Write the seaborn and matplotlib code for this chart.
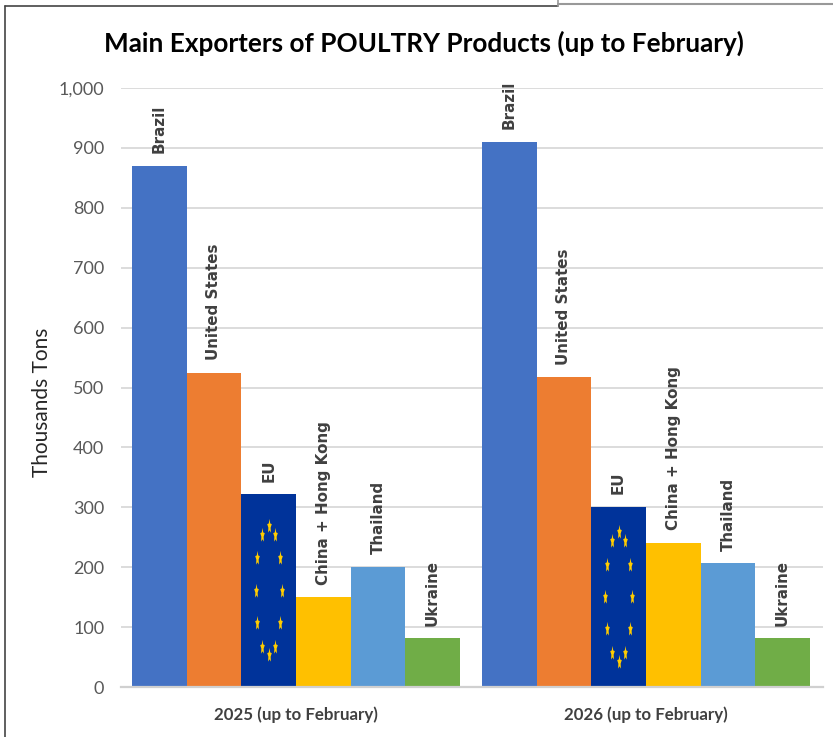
import matplotlib
matplotlib.use('Agg')
import matplotlib.pyplot as plt
from matplotlib.lines import Line2D
from matplotlib.path import Path
from matplotlib.markers import MarkerStyle
from matplotlib.transforms import Affine2D
import numpy as np
import pandas as pd
import seaborn as sns

periods = ['2025 (up to February)', '2026 (up to February)']
exporters = ['Brazil', 'United States', 'EU', 'China + Hong Kong', 'Thailand', 'Ukraine']
vals_2025 = [870, 525, 322, 150, 201, 81]
vals_2026 = [910, 517, 301, 241, 207, 81]
bar_colors = ['#4472C4', '#ED7D31', '#00339A', '#FFC000', '#5B9BD5', '#70AD47']
y_ticks = [0, 100, 200, 300, 400, 500, 600, 700, 800, 900, 1000]

df = pd.DataFrame({
    'period': [periods[0]] * 6 + [periods[1]] * 6,
    'exporter': exporters * 2,
    'tons': vals_2025 + vals_2026,
})

sns.set_theme(style='white')
plt.rcParams['font.family'] = ['Lato', 'DejaVu Sans']

fig = plt.figure(figsize=(8.33, 7.37), dpi=100)
W, H = 833, 737
ax = fig.add_axes([121 / W, 1 - 687 / H, 702 / W, 599 / H])

sns.barplot(data=df, x='period', y='tons', hue='exporter', hue_order=exporters,
            palette=bar_colors, width=0.937, gap=0, saturation=1, legend=False,
            linewidth=0, ax=ax)

ax.set_xlim(-0.5, 1.506)
ax.set_ylim(0, 1000)
ax.set_yticks(y_ticks)
ax.set_yticklabels([f'{t:,}' for t in y_ticks], fontsize=13, color='#595959')
ax.yaxis.grid(True, color='#D9D9D9', lw=1.3)
ax.set_axisbelow(True)
ax.tick_params(axis='both', length=0)
ax.tick_params(axis='y', pad=12)
ax.tick_params(axis='x', pad=14)
for lab in ax.get_xticklabels():
    lab.set_fontsize(12.2)
    lab.set_fontweight('bold')
    lab.set_color('#404040')
ax.set_xlabel('')
ax.set_ylabel('Thousands Tons', fontsize=15, color='#262626', labelpad=5, y=0.475)
for s in ['top', 'right', 'left']:
    ax.spines[s].set_visible(False)
ax.spines['bottom'].set_color('#D0D0D0')
ax.spines['bottom'].set_linewidth(1.6)

for cont, name in zip(ax.containers, exporters):
    ax.bar_label(cont, labels=[name] * len(cont), rotation=90, padding=9,
                 fontsize=10.9, fontweight='bold', color='#404040',
                 family='DejaVu Sans')

# little stretched stars for the EU flag bars
star = MarkerStyle((5, 1, 0))
star_path = star.get_path().transformed(star.get_transform())
star_path = Path(star_path.vertices, star_path.codes).transformed(Affine2D().scale(0.6, 1.9))
eu_bars = ax.containers[exporters.index('EU')]
for bar in eu_bars:
    cx = bar.get_x() + bar.get_width() / 2
    cy = bar.get_height() * 0.5
    rx = bar.get_width() * 0.24
    ry = 108
    ang = np.deg2rad(np.arange(0, 360, 30))
    ax.scatter(cx + rx * np.cos(ang), cy + ry * np.sin(ang), marker=star_path, s=120,
               color='#FFCC00', linewidths=0, zorder=5)

fig.text(424 / W, 1 - 43 / H, 'Main Exporters of POULTRY Products (up to February)',
         ha='center', va='center', fontsize=18.8, fontweight='bold', color='black')

# frame of the pasted screenshot
fig.add_artist(Line2D([5 / W, 5 / W], [0, 1 - 6 / H], color='#444444', lw=1.2))
fig.add_artist(Line2D([5 / W, 558 / W], [1 - 6 / H, 1 - 6 / H], color='#444444', lw=1.2))
fig.add_artist(Line2D([558 / W, 1], [1 - 4 / H, 1 - 4 / H], color='#999999', lw=1.5))
fig.add_artist(Line2D([558 / W, 558 / W], [1 - 6 / H, 1], color='#999999', lw=1.2))

fig.savefig('out.png', dpi=100)
